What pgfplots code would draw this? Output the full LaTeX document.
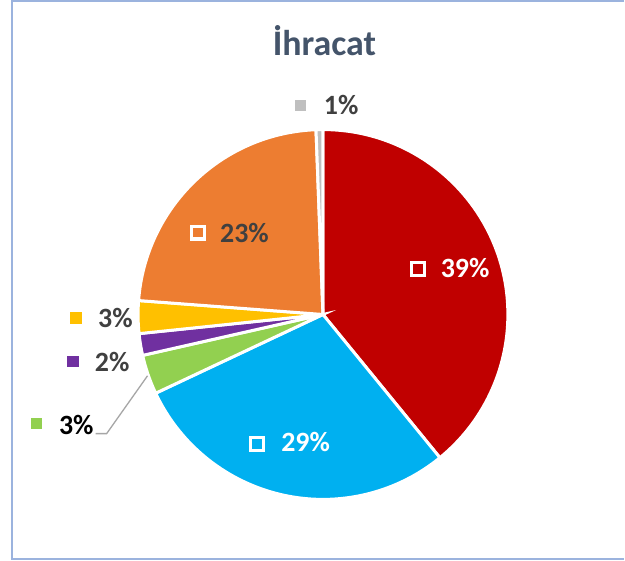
\documentclass[border=0pt]{standalone}
\usepackage{pgfplots}
\pgfplotsset{compat=1.18}
\usepackage{fontspec}
\setmainfont{Carlito}
\definecolor{cRed}{HTML}{C00000}
\definecolor{cBlue}{HTML}{00B0F0}
\definecolor{cGreen}{HTML}{92D050}
\definecolor{cPurple}{HTML}{7030A0}
\definecolor{cYellow}{HTML}{FFC000}
\definecolor{cOrange}{HTML}{ED7D31}
\definecolor{cGray}{HTML}{BFBFBF}
\definecolor{cTitle}{HTML}{44546A}
\definecolor{cText}{HTML}{404040}
\definecolor{cFrame}{HTML}{9BB3DE}
\definecolor{cLeader}{HTML}{A6A6A6}
% slice values (percent), clockwise from the top
\def\vRed{39.1}\def\vBlue{28.9}\def\vGreen{3.45}\def\vPurple{1.9}
\def\vYellow{2.85}\def\vOrange{23.2}\def\vGray{0.6}
\pgfmathsetmacro\cA{\vRed}
\pgfmathsetmacro\cB{\cA+\vBlue}
\pgfmathsetmacro\cC{\cB+\vGreen}
\pgfmathsetmacro\cD{\cC+\vPurple}
\pgfmathsetmacro\cE{\cD+\vYellow}
\pgfmathsetmacro\cF{\cE+\vOrange}
\pgfmathsetmacro\cG{\cF+\vGray}
\newcommand{\slice}[3]{%
  \fill[#3, draw=white, line width=3pt] (axis cs:324,246.5) -- ++({90-3.6*(#1)}:185.5pt)
    arc[start angle={90-3.6*(#1)}, end angle={90-3.6*(#2)}, radius=185.5pt] -- cycle;}
\newcommand{\lbl}{\fontsize{28}{32}\selectfont\bfseries}
\begin{document}
\begin{tikzpicture}
\begin{axis}[x=1pt, y=1pt, xmin=0, xmax=625, ymin=0, ymax=562,
  hide axis, clip=false, anchor=origin, at={(0,0)}]
\fill[white] (axis cs:0,0) rectangle (axis cs:625,562);
\draw[cFrame, line width=2pt] (axis cs:626,561) -- (axis cs:12,561) -- (axis cs:12,1) -- (axis cs:626,1);
\node[anchor=base, text=cTitle, font=\fontsize{36}{40}\selectfont\bfseries] at (axis cs:325.5,506) {İhracat};
\slice{0}{\cA}{cRed}
\slice{\cA}{\cB}{cBlue}
\slice{\cB}{\cC}{cGreen}
\slice{\cC}{\cD}{cPurple}
\slice{\cD}{\cE}{cYellow}
\slice{\cE}{\cF}{cOrange}
\slice{\cF}{\cG}{cGray}
% inside labels
\node[draw=white, line width=3.5pt, minimum size=13pt, inner sep=0pt] at (axis cs:419.5,292) {};
\node[anchor=base west, text=white, font=\lbl, inner sep=0pt] at (axis cs:442,283.3) {39\%};
\node[draw=white, line width=3.5pt, minimum size=13pt, inner sep=0pt] at (axis cs:258,116.5) {};
\node[anchor=base west, text=white, font=\lbl, inner sep=0pt] at (axis cs:282,108.7) {29\%};
\node[draw=white, line width=3.5pt, minimum size=13pt, inner sep=0pt] at (axis cs:198.5,328.5) {};
\node[anchor=base west, text=cText, font=\lbl, inner sep=0pt] at (axis cs:220.7,318.7) {23\%};
% outside labels
\node[fill=cGray, minimum size=11pt, inner sep=0pt] at (axis cs:301.5,456) {};
\node[anchor=base west, text=cText, font=\lbl, inner sep=0pt] at (axis cs:324.7,447) {1\%};
\node[fill=cYellow, minimum size=12pt, inner sep=0pt] at (axis cs:76.7,243.3) {};
\node[anchor=base west, text=cText, font=\lbl, inner sep=0pt] at (axis cs:98.3,233) {3\%};
\node[fill=cPurple, minimum size=11.5pt, inner sep=0pt] at (axis cs:73.3,199.5) {};
\node[anchor=base west, text=cText, font=\lbl, inner sep=0pt] at (axis cs:95,189.3) {2\%};
\node[fill=cGreen, minimum size=11pt, inner sep=0pt] at (axis cs:36.8,136.7) {};
\node[anchor=base west, text=black, font=\lbl, inner sep=0pt] at (axis cs:59,126.3) {3\%};
\draw[cLeader, line width=1.3pt] (axis cs:96,127) -- (axis cs:107,127) -- (axis cs:148,185);
\end{axis}
\end{tikzpicture}
\end{document}
